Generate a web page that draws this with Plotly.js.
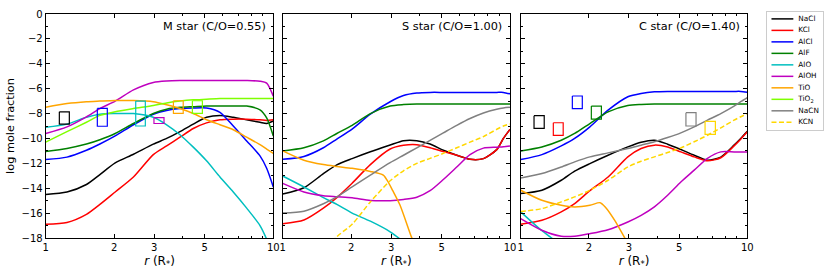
<!DOCTYPE html>
<html><head><meta charset="utf-8">
<script src="https://cdn.plot.ly/plotly-3.0.1.min.js"></script>
<style>html,body{margin:0;padding:0;background:#fff;} #plot{width:830px;height:270px;}</style>
</head><body><div id="plot"></div>
<script>
// ---------------- DATA ----------------
const species = ['NaCl','KCl','AlCl','AlF','AlO','AlOH','TiO','TiO2','NaCN','KCN'];
const legendLabels = ['NaCl','KCl','AlCl','AlF','AlO','AlOH','TiO','TiO<sub>2</sub>','NaCN','KCN'];
const panelLabels = ['M star (C/O=0.55)','S star (C/O=1.00)','C star (C/O=1.40)'];
const xTickVals = [1,2,3,5,10];
const xTickText = ['1','2','3','5','10'];
const xMinorVals = [4,6,7,8,9];

// common radial grid (R*)
const rGrid = [1, 1.24, 1.51, 1.73, 2.02, 2.43, 2.97, 3.40, 3.89, 4.45, 5.09, 5.83, 6.67, 7.64, 8.74, 9.35, 10];

// M star (C/O = 0.55)
const M_NaCl = [-14.5, -14.3, -13.7, -12.9, -11.96, -11.27, -10.46, -10.0, -9.45, -8.85, -8.3, -8.15, -8.3, -8.5, -8.7, -8.8, -8.6];
const M_KCl  = [-16.9, -16.75, -16.1, -15.3, -14.3, -13.1, -11.3, -10.6, -9.9, -9.2, -8.75, -8.5, -8.45, -8.45, -8.5, -8.55, -8.5];
const M_AlCl = [-11.7, -11.5, -10.95, -10.45, -9.8, -8.9, -8.05, -7.75, -7.6, -7.55, -7.55, -7.9, -9.0, -10.2, -11.4, -12.4, -13.9];
const M_AlF  = [-11.05, -10.8, -10.45, -10.1, -9.6, -8.8, -8.0, -7.65, -7.5, -7.45, -7.4, -7.4, -7.4, -7.4, -7.7, -8.35, -9.8];
const M_AlO  = [-9.1, -8.85, -8.3, -8.05, -8.0, -8.0, -8.3, -8.9, -9.7, -10.7, -11.8, -13.1, -14.3, -15.6, -17.0, -18.1, -19.5];
const M_AlOH = [-9.6, -9.07, -8.26, -7.6, -7.0, -6.1, -5.5, -5.38, -5.35, -5.35, -5.35, -5.35, -5.35, -5.35, -5.4, -5.55, -6.6];
const M_TiO  = [-7.5, -7.2, -7.05, -7.0, -6.95, -6.95, -7.05, -7.3, -7.6, -8.0, -8.5, -8.9, -9.3, -9.9, -10.5, -10.85, -11.2];
const M_TiO2 = [-10.3, -9.45, -8.7, -8.15, -7.85, -7.6, -7.35, -7.15, -7.0, -6.9, -6.85, -6.8, -6.8, -6.8, -6.8, -6.8, -6.8];

// S star (C/O = 1.00)
const S_NaCl = [-14.47, -13.96, -12.83, -12.13, -11.62, -11.07, -10.53, -10.18, -10.18, -10.45, -10.95, -11.35, -11.68, -11.62, -10.9, -10.0, -9.27];
const S_KCl  = [-16.85, -16.55, -15.6, -14.75, -13.6, -12.1, -10.85, -10.55, -10.5, -10.75, -11.05, -11.35, -11.68, -11.62, -10.9, -10.0, -9.27];
const S_AlCl = [-11.68, -11.45, -10.75, -10.05, -9.25, -8.05, -7.05, -6.55, -6.35, -6.3, -6.3, -6.3, -6.3, -6.3, -6.3, -6.3, -6.42];
const S_AlF  = [-11.0, -10.75, -10.2, -9.6, -8.95, -8.0, -7.4, -7.28, -7.23, -7.23, -7.23, -7.23, -7.23, -7.23, -7.23, -7.23, -7.23];
const S_AlO  = [-13.02, -13.9, -14.75, -15.3, -16.0, -16.65, -17.5, -18.3];
const S_AlOH = [-13.61, -14.3, -14.6, -14.68, -14.76, -14.98, -15.0, -14.9, -14.72, -14.2, -13.3, -12.3, -11.3, -10.78, -10.7, -10.66, -10.6];
const S_TiO_r = [1, 1.24, 1.51, 1.73, 2.02, 2.43, 2.77, 2.9, 3.05, 3.28, 3.69, 3.9];
const S_TiO  = [-11.0, -11.75, -12.1, -12.25, -12.4, -12.65, -12.95, -13.45, -14.2, -15.35, -17.95, -19.0];
const S_NaCN = [-16.0, -15.85, -15.25, -14.7, -13.9, -12.95, -11.95, -11.35, -10.75, -10.15, -9.55, -8.95, -8.4, -7.95, -7.65, -7.55, -7.5];
const S_KCN  = [null, null, -19.3, -17.9, -16.9, -15.1, -13.4, -12.6, -12.0, -11.6, -11.2, -10.75, -10.3, -9.85, -9.27, -9.0, -8.84];

// C star (C/O = 1.40)
const C_NaCl = [-14.43, -14.16, -13.36, -12.63, -12.02, -11.35, -10.68, -10.3, -10.14, -10.46, -10.89, -11.35, -11.75, -11.5, -10.54, -10.0, -9.42];
const C_KCl  = [-16.9, -16.58, -15.9, -15.24, -14.2, -13.1, -11.48, -10.81, -10.54, -10.68, -11.08, -11.48, -11.8, -11.55, -10.6, -10.06, -9.47];
const C_AlCl = [-11.7, -11.3, -10.6, -10.0, -9.07, -7.73, -6.65, -6.38, -6.25, -6.22, -6.22, -6.22, -6.22, -6.22, -6.22, -6.22, -6.28];
const C_AlF  = [-11.0, -10.68, -10.14, -9.6, -8.8, -7.86, -7.35, -7.27, -7.24, -7.24, -7.24, -7.24, -7.24, -7.24, -7.24, -7.24, -7.24];
const C_AlO_r = [1, 1.118, 1.238, 1.37, 1.5];
const C_AlO  = [-15.9, -16.7, -17.4, -18.0, -18.6];
const C_AlOH = [-16.44, -17.38, -17.86, -17.86, -17.65, -17.33, -16.71, -16.18, -15.5, -14.57, -13.5, -12.55, -11.6, -11.08, -11.08, -11.08, -11.08];
const C_TiO_r = [1, 1.24, 1.51, 1.73, 2.02, 2.24, 2.36, 2.60, 2.88, 3.0];
const C_TiO  = [-14.16, -14.97, -15.37, -15.5, -15.37, -15.16, -15.5, -16.58, -18.0, -18.6];
const C_NaCN = [-13.17, -12.82, -12.29, -11.88, -11.48, -11.16, -10.81, -10.54, -10.27, -9.93, -9.55, -9.07, -8.53, -8.0, -7.4, -7.05, -6.73];
const C_KCN  = [-15.88, -15.64, -15.1, -14.7, -14.16, -13.36, -12.29, -11.83, -11.48, -11.13, -10.76, -10.27, -9.74, -9.15, -8.53, -8.26, -8.0];

// observed ranges (boxes): species, r from, r to, log x from, log x to
const M_boxSpecies = ['NaCl','AlCl','AlO','AlOH','TiO','TiO2'];
const M_boxR0 = [1.148, 1.686, 2.486, 2.99, 3.64, 4.41];
const M_boxR1 = [1.27, 1.865, 2.74, 3.31, 4.02, 4.88];
const M_boxY0 = [-7.86, -7.59, -7.0, -8.33, -6.97, -6.97];
const M_boxY1 = [-8.85, -9.02, -9.0, -8.8, -7.98, -7.98];

const C_boxSpecies = ['NaCl','KCl','AlCl','AlF','NaCN','KCN'];
const C_boxR0 = [1.145, 1.393, 1.69, 2.05, 5.36, 6.51];
const C_boxR1 = [1.27, 1.54, 1.87, 2.27, 5.94, 7.23];
const C_boxY0 = [-8.17, -8.74, -6.59, -7.4, -7.93, -8.63];
const C_boxY1 = [-9.19, -9.75, -7.61, -8.44, -9.0, -9.67];

// ---------------- STYLE ----------------
const colors = {NaCl:'#000000', KCl:'#ff0000', AlCl:'#0000ff', AlF:'#008000', AlO:'#00bfbf',
  AlOH:'#bf00bf', TiO:'#ffa500', TiO2:'#7fff00', NaCN:'#808080', KCN:'#ffd700'};
const dashes = {KCN:'5px,2.5px'};
const FONT = 'DejaVu Sans, Liberation Sans, sans-serif';

const panels = [
  {xa:'x', ya:'y', series:{NaCl:[rGrid,M_NaCl], KCl:[rGrid,M_KCl], AlCl:[rGrid,M_AlCl], AlF:[rGrid,M_AlF],
     AlO:[rGrid,M_AlO], AlOH:[rGrid,M_AlOH], TiO:[rGrid,M_TiO], TiO2:[rGrid,M_TiO2]},
   boxes:[M_boxSpecies,M_boxR0,M_boxR1,M_boxY0,M_boxY1]},
  {xa:'x2', ya:'y2', series:{NaCl:[rGrid,S_NaCl], KCl:[rGrid,S_KCl], AlCl:[rGrid,S_AlCl], AlF:[rGrid,S_AlF],
     AlO:[rGrid,S_AlO], AlOH:[rGrid,S_AlOH], TiO:[S_TiO_r,S_TiO], NaCN:[rGrid,S_NaCN], KCN:[rGrid,S_KCN]},
   boxes:null},
  {xa:'x3', ya:'y3', series:{NaCl:[rGrid,C_NaCl], KCl:[rGrid,C_KCl], AlCl:[rGrid,C_AlCl], AlF:[rGrid,C_AlF],
     AlO:[C_AlO_r,C_AlO], AlOH:[rGrid,C_AlOH], TiO:[C_TiO_r,C_TiO], NaCN:[rGrid,C_NaCN], KCN:[rGrid,C_KCN]},
   boxes:[C_boxSpecies,C_boxR0,C_boxR1,C_boxY0,C_boxY1]}
];

const traces = [];
panels.forEach(p => {
  species.forEach(s => {
    if (!p.series[s]) return;
    const [x, y] = p.series[s];
    traces.push({type:'scatter', mode:'lines', x:x.slice(0, y.length), y:y, xaxis:p.xa, yaxis:p.ya,
      showlegend:false, hoverinfo:'skip',
      line:{color:colors[s], width:1.5, shape:'spline', smoothing:0.7, dash:dashes[s]||'solid'}});
  });
  if (p.boxes) {
    const [sp, r0, r1, y0, y1] = p.boxes;
    sp.forEach((s, i) => {
      traces.push({type:'scatter', mode:'lines', xaxis:p.xa, yaxis:p.ya, showlegend:false, hoverinfo:'skip',
        x:[r0[i], r1[i], r1[i], r0[i], r0[i]], y:[y0[i], y0[i], y1[i], y1[i], y0[i]],
        line:{color:colors[s], width:1.2}});
    });
  }
});

// legend panel (drawn on its own small axes)
species.forEach((s, i) => {
  traces.push({type:'scatter', mode:'lines', x:[0.08, 0.47], y:[i, i], xaxis:'x4', yaxis:'y4',
    showlegend:false, hoverinfo:'skip', line:{color:colors[s], width:1.5, dash:dashes[s]||'solid'}});
});
traces.push({type:'scatter', mode:'text', x:species.map(() => 0.56), y:species.map((s, i) => i),
  text:legendLabels, textposition:'middle right', xaxis:'x4', yaxis:'y4', showlegend:false, hoverinfo:'skip',
  textfont:{family:FONT, size:7.3, color:'#000'}, cliponaxis:false});

// ---------------- LAYOUT ----------------
const W = 830, H = 270;
const yDom = [1 - 238/H, 1 - 14/H];
const xDoms = [[45.7/W, 273.3/W], [282.7/W, 510/W], [520.7/W, 747.3/W]];
const TICKF = {family:FONT, size:10, color:'#000'};
const TITLEF = {family:FONT, size:11.3, color:'#000'};

function xAxis(dom) {
  return {domain:dom, type:'log', range:[0, 1], autorange:false, tickmode:'array', tickvals:xTickVals, ticktext:xTickText,
    ticks:'inside', ticklen:4, tickwidth:1, tickcolor:'#000', showline:true, linecolor:'#000', linewidth:1, mirror:'ticks',
    showgrid:false, zeroline:false, tickfont:TICKF,
    minor:{tickmode:'array', tickvals:xMinorVals, ticks:'inside', ticklen:2, tickwidth:1, tickcolor:'#000', showgrid:false},
    title:{text:'<i>r</i> (R<sub>*</sub>)\u00a0\u00a0\u00a0', font:{family:FONT, size:12, color:'#000'}, standoff:4}, automargin:false};
}
function yAxis(showLabels, anchor) {
  return {domain:yDom, anchor:anchor, range:[-18, 0], autorange:false, tick0:0, dtick:2, ticks:'inside', ticklen:4, tickwidth:1,
    tickcolor:'#000', showline:true, linecolor:'#000', linewidth:1, mirror:'ticks', showgrid:false, zeroline:false,
    showticklabels:showLabels, tickfont:TICKF,
    minor:{dtick:1, ticks:'inside', ticklen:2, tickwidth:1, tickcolor:'#000', showgrid:false}, automargin:false};
}

const layout = {
  width:W, height:H, margin:{l:0, r:0, t:0, b:0}, paper_bgcolor:'#fff', plot_bgcolor:'#fff',
  font:{family:FONT, color:'#000'}, showlegend:false, hovermode:false,
  xaxis:Object.assign(xAxis(xDoms[0]), {anchor:'y'}),
  xaxis2:Object.assign(xAxis(xDoms[1]), {anchor:'y2'}),
  xaxis3:Object.assign(xAxis(xDoms[2]), {anchor:'y3'}),
  yaxis:Object.assign(yAxis(true, 'x'), {title:{text:'log mole fraction', font:TITLEF, standoff:4}}),
  yaxis2:yAxis(false, 'x2'),
  yaxis3:yAxis(false, 'x3'),
  xaxis4:{domain:[767/W, 823/W], anchor:'y4', range:[0, 1], autorange:false, showline:true, mirror:true, linecolor:'#cccccc',
    linewidth:1, ticks:'', showticklabels:false, showgrid:false, zeroline:false},
  yaxis4:{domain:[1 - 130/H, 1 - 12/H], anchor:'x4', range:[9.67, -0.6], autorange:false, showline:true, mirror:true,
    linecolor:'#cccccc', linewidth:1, ticks:'', showticklabels:false, showgrid:false, zeroline:false},
  annotations: panelLabels.map((t, i) => ({text:t, xref:(i ? 'x' + (i + 1) : 'x') + ' domain', yref:(i ? 'y' + (i + 1) : 'y') + ' domain',
    x:0.975, y:0.943, xanchor:'right', yanchor:'middle', showarrow:false, font:TITLEF}))
};

Plotly.newPlot('plot', traces, layout, {staticPlot:true, displayModeBar:false});
</script></body></html>
